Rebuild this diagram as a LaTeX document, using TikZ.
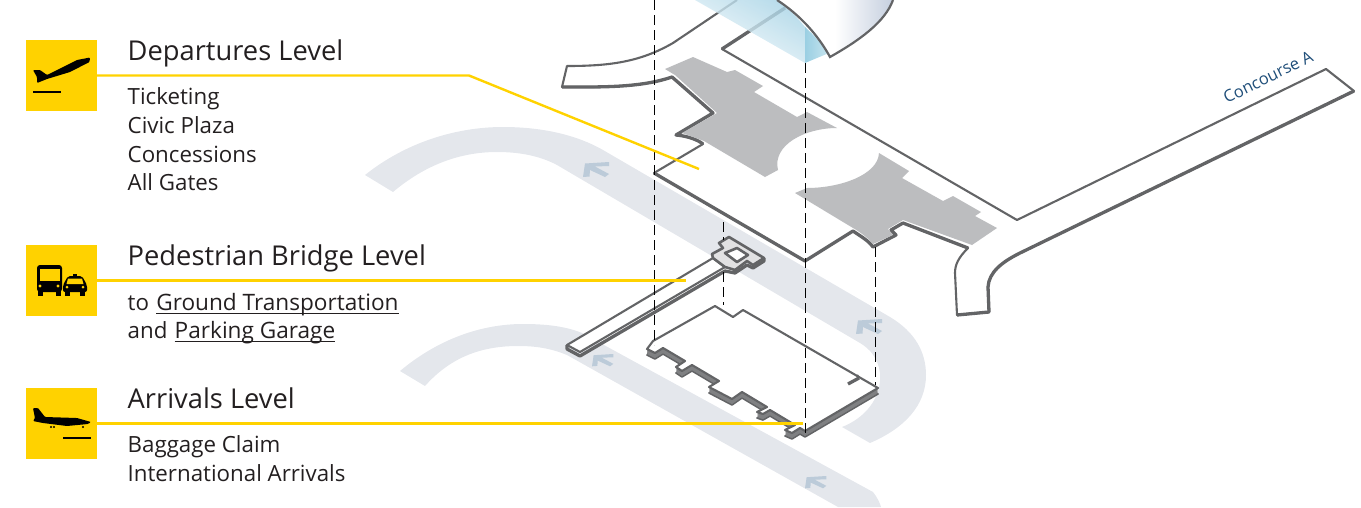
\documentclass[tikz,border=0pt]{standalone}
\usepackage{fontspec}
\setmainfont{Open Sans}
\definecolor{signyellow}{HTML}{FFD200}
\definecolor{roadgrey}{HTML}{E4E7EC}
\definecolor{markblue}{HTML}{BCCBD9}
\definecolor{wallgrey}{HTML}{636466}
\definecolor{sidegrey}{HTML}{7F8082}
\definecolor{areagrey}{HTML}{BCBDBF}
\definecolor{labelnavy}{HTML}{1F4E79}
\definecolor{inkblack}{HTML}{231F20}
\definecolor{glassdeep}{HTML}{9ACFE3}
\definecolor{glassmid}{HTML}{C8E5EF}
\definecolor{glasspale}{HTML}{A8D4E6}
\definecolor{glassend}{HTML}{F6FAFC}
\definecolor{domeblue}{HTML}{C5CFDF}
\newcommand\linkword[1]{\setbox0\hbox{\fontsize{22.6}{22.6}\selectfont #1}\rlap{\rule[-4pt]{\wd0}{1pt}}\box0}
\def\slabpath{(653,341) -- (715,306) -- (733,317) -- (743,310) -- (878,388) -- (805,431) -- (800,428) -- (792,433) -- (785,430) -- (795,425) -- (770,410) -- (763,414) -- (757,412) -- (767,407) -- (742,392) -- (732,399) -- (709,387) -- (719,381) -- (692,365) -- (682,371) -- (676,367) -- (685,361) -- (663,348) -- (655,353) -- (647,349) -- cycle}
\tikzset{
  signtile/.style={fill=signyellow,minimum size=71pt,inner sep=0pt},
  leader/.style={signyellow,line width=2.4pt},
  wall/.style={wallgrey,line width=2.1pt,line join=round},
  heavywall/.style={wallgrey,line width=3.3pt,line join=round},
  dropline/.style={black,line width=1pt,dash pattern=on 10pt off 5pt},
  levelhead/.style={anchor=base west,inner sep=0pt,text=inkblack,font=\fontsize{27.3}{27.3}\selectfont},
  levelbody/.style={anchor=base west,inner sep=0pt,text=inkblack,font=\fontsize{22.3}{22.3}\selectfont},
  roadmark/.pic={\fill[markblue] (0,15) -- (2,1.5) -- (26,0) -- (26,4) -- (12,4.5) -- (26,12) -- (22,15) -- (7,8) -- (6.5,14.5) -- cycle;}
}
\begin{document}
\begin{tikzpicture}[x=1pt,y=-1pt]
\useasboundingbox (0,0) rectangle (1361,507);
\fill[roadgrey] (365,175) .. controls (405,143) and (455,127) .. (503,127) .. controls (540,127) and (575,134) .. (603,150) -- (890,317) .. controls (915,332) and (926,352) .. (926,375) .. controls (926,405) and (905,428) .. (870,443) -- (842,427) .. controls (865,418) and (882,398) .. (880,373) .. controls (878,358) and (870,349) .. (860,343) -- (557,165) .. controls (540,156) and (520,152) .. (497,152) .. controls (460,152) and (425,165) .. (393,192) -- cycle;
\fill[roadgrey] (400,371) .. controls (437,340) and (480,324) .. (523,324) .. controls (545,324) and (565,326) .. (582,333) -- (873,492) .. controls (877,497) and (880,503) .. (881,507) -- (838,507) -- (567,355) .. controls (550,348) and (535,346) .. (518,346) .. controls (480,346) and (450,358) .. (425,386) -- cycle;
\pic at (583,162) {roadmark};
\pic[scale=0.82] at (592,354) {roadmark};
\pic at (856,319) {roadmark};
\pic[scale=0.82] at (805,476) {roadmark};
\draw[wall,fill=white] (737,0) -- (673,43) .. controls (640,62) and (610,66) .. (567,66) -- (562,87) .. controls (600,87) and (640,88) .. (672,77) -- (713,113) -- (676,135) .. controls (688,136) and (698,140) .. (703,144) -- (654,173) -- (805,261) -- (853,231) .. controls (860,236) and (868,240) .. (873,247) -- (896,235) -- (891,230) -- (903,223) -- (968,248) .. controls (958,258) and (955,265) .. (955,273) -- (957,315) -- (989,312) -- (988,287) .. controls (989,272) and (1002,262) .. (1020,253) -- (1354,91) -- (1326,69) -- (1017,220) -- (722,49) -- (785,8);
\draw[heavywall] (562,87) .. controls (600,87) and (640,88) .. (672,77) -- (713,113) -- (676,135) .. controls (688,136) and (698,140) .. (703,144);
\draw[heavywall] (654,173) -- (805,261) -- (853,231) .. controls (860,236) and (868,240) .. (873,247) -- (896,235) -- (891,230) -- (903,223) -- (968,248);
\draw[heavywall] (957,315) -- (989,312) -- (988,287) .. controls (989,272) and (1002,262) .. (1020,253) -- (1354,91);
\draw[heavywall] (722,49) -- (785,8);
\fill[areagrey] (665,69) -- (693,57) -- (727,72) -- (735,70) -- (763,86) -- (754,92) -- (797,117) -- (807,112) -- (837,128) .. controls (805,128) and (772,145) .. (778,170) -- (765,177) -- (704,141) -- (682,133) -- (717,113) -- (675,75) -- cycle;
\fill[areagrey] (795,193) -- (807,188) .. controls (840,188) and (878,175) .. (879,153) -- (909,171) -- (902,178) -- (943,201) -- (953,196) -- (981,212) -- (975,216) -- (997,228) -- (972,245) -- (903,220) -- (888,229) -- (893,235) -- (873,244) .. controls (868,238) and (860,232) .. (853,228) -- cycle;
\shade[left color=glasspale,right color=glassend,shading angle=-30,opacity=0.8] (695,0) -- (777,0) .. controls (788,8) and (797,17) .. (805,27) -- (805,63) -- cycle;
\shade[left color=glassdeep,right color=glassmid] (805,27) .. controls (815,36) and (823,46) .. (829,53) -- (805,63) -- cycle;
\shade[draw=wallgrey,line width=2.2pt,left color=white,right color=domeblue,middle color=white] (777,0) .. controls (800,15) and (818,35) .. (830,57) .. controls (860,40) and (885,22) .. (893,0);
\draw[heavywall] (567,345) -- (567,349) -- (580,356) -- (725,271) -- (735,273) -- (747,265) -- (753,268) -- (764,261) -- (764,258);
\draw[wall,fill=white] (580,352) -- (567,345) -- (713,258) -- (725,267) -- cycle;
\draw[wall,line width=2.6pt,fill=areagrey!45!white] (725,267) -- (713,258) -- (712,254) -- (723,248) -- (719,243) -- (729,237) -- (764,258) -- (753,265) -- (747,261) -- (735,270) -- cycle;
\draw[wall,line width=2.6pt,fill=white] (725,253) -- (737,248) -- (748,255) -- (737,262) -- cycle;
\draw[wallgrey,line width=1.6pt,fill=sidegrey,line join=round,shift={(0,6)}] \slabpath;
\foreach \dy in {5,4,3,2,1}
  \fill[sidegrey,shift={(0,\dy)}] \slabpath;
\draw[wall,fill=white] \slabpath;
\draw[heavywall] (848,384) -- (859,378);
\draw[wall] (859,378) -- (857,375);
\draw[dropline] (654,0) -- (654,345);
\draw[dropline] (805.5,63) -- (805.5,437);
\draw[dropline] (723,222) -- (723,240);
\draw[dropline] (723,272) -- (723,305);
\draw[dropline] (875,247) -- (875,385);
\node[signtile] (deptile) at (61.5,75.5) {};
\node[signtile] (pedtile) at (61.5,280.5) {};
\node[signtile] (arrtile) at (61.5,423.5) {};
\coordinate (depend) at (699,169);
\coordinate (pedend) at (686,280.5);
\coordinate (arrend) at (803,423.5);
\draw[leader] (deptile.east) -- (469,75.5) -- (depend);
\draw[leader] (pedtile.east) -- (pedend);
\draw[leader] (arrtile.east) -- (arrend);
\fill[rounded corners=1pt] (33,70) -- (40,70) -- (47,75) -- (77,60) -- (90,57.5) -- (89.5,62) -- (70,72) -- (47,79) -- (37,83) -- (37,77) -- cycle;
\fill (33,91.2) rectangle (61,92.8);
\fill[rounded corners=3pt] (37,292) -- (37,265) -- (62,265) -- (62,292) -- cycle;
\fill (38,290) rectangle (43,296);
\fill (56,290) rectangle (61,296);
\fill[signyellow] (39.5,269) rectangle (59.5,281);
\fill[signyellow] (40,286) circle (1.6pt) (58,286) circle (1.6pt);
\fill[rounded corners=2pt] (63,292) -- (63,285) -- (68,276) -- (82,276) -- (87,285) -- (87,292) -- cycle;
\fill (73,274) rectangle (77,277);
\fill (65,290) rectangle (70,296);
\fill (80,290) rectangle (85,296);
\fill[signyellow] (68,278.5) -- (82,278.5) -- (83.5,284) -- (66.5,284) -- cycle;
\fill[signyellow] (67,287) circle (1.5pt) (83,287) circle (1.5pt);
\fill[rounded corners=1pt] (33,408) -- (38,408) -- (45,417) -- (77,418) -- (91,422) -- (88,424) -- (67,426) -- (43,423) -- (33,421) -- (35,418) -- cycle;
\fill (51,427) circle (1.1pt) (54,427) circle (1.1pt) (83,427) circle (1.1pt);
\fill (63,437.2) rectangle (91,438.8);
\node[levelhead] (dephead) at (127.5,60) {Departures Level};
\node[levelbody] (depone) at (127.5,104) {Ticketing};
\node[levelbody] (deptwo) at (127.5,133) {Civic Plaza};
\node[levelbody] (depthree) at (127.5,162) {Concessions};
\node[levelbody] (depfour) at (127.5,190) {All Gates};
\node[levelhead] (pedhead) at (127.5,265) {Pedestrian Bridge Level};
\node[levelbody] (pedone) at (127.5,310) {to\hspace{1.5pt} \linkword{Ground Transportation}};
\node[levelbody] (pedtwo) at (127.5,338) {and\hspace{1.5pt} \linkword{Parking Garage}};
\node[levelhead] (arrhead) at (127.5,408) {Arrivals Level};
\node[levelbody] (arrone) at (127.5,452) {Baggage Claim};
\node[levelbody] (arrtwo) at (127.5,481) {International Arrivals};
\node[text=labelnavy,rotate=26,inner sep=0pt,font=\fontsize{16.5}{16.5}\selectfont] (conlabel) at (1268,77) {Concourse A};
\end{tikzpicture}
\end{document}
